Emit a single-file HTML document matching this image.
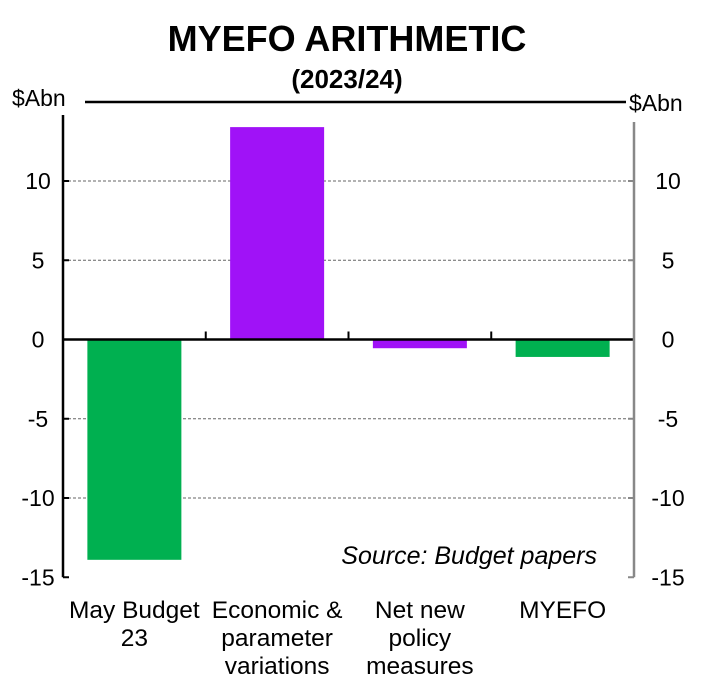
<!DOCTYPE html>
<html><head><meta charset="utf-8"><style>
body{margin:0;background:#fff;}
svg text{font-family:"Liberation Sans",Arial,sans-serif;fill:#000;}
</style></head><body>
<svg width="702" height="686" viewBox="0 0 702 686">
<text x="347" y="51" text-anchor="middle" font-size="36" font-weight="bold">MYEFO ARITHMETIC</text>
<text x="347" y="88" text-anchor="middle" font-size="26" font-weight="bold">(2023/24)</text>
<line x1="85" y1="102" x2="626" y2="102" stroke="#000" stroke-width="2.5"/>
<text x="12" y="106" font-size="23">$Abn</text>
<text x="629" y="111" font-size="23">$Abn</text>
<g id="grid"></g>
<g id="bars"></g>
<g id="axes"></g>
<text x="597" y="564" text-anchor="end" font-size="25" font-style="italic">Source: Budget papers</text>
</svg>
<script>
const categories=[["May Budget","23"],["Economic &","parameter","variations"],["Net new","policy","measures"],["MYEFO"]];
const values=[-13.9,13.4,-0.55,-1.1];
const colors=["#00b050","#a012f7","#a012f7","#00b050"];
const ticks=[10,5,0,-5,-10,-15];
const NS="http://www.w3.org/2000/svg";
const X0=63,X1=634,yZero=339.5,unit=15.85;
const y=v=>yZero-v*unit;
const cw=(X1-X0)/categories.length;
const cx=i=>X0+cw*(i+0.5);
function mk(t,a,p){const e=document.createElementNS(NS,t);for(const k in a)e.setAttribute(k,a[k]);p.appendChild(e);return e;}
const grid=document.getElementById('grid'),bars=document.getElementById('bars'),axes=document.getElementById('axes');
ticks.forEach(t=>{
  if(t!==0&&t!==-15){const g=mk('line',{x1:X0,x2:X1,y1:y(t),y2:y(t),stroke:'#666','stroke-width':1,'stroke-dasharray':'3,2'},grid);
  
  }
  const l=mk('text',{x:38,y:y(t)+8,'text-anchor':'middle','font-size':23},axes);l.textContent=t;
  
  
  const r=mk('text',{x:668,y:y(t)+8,'text-anchor':'middle','font-size':23},axes);r.textContent=t;
  
  
  const tl=mk('line',{x1:X0,x2:X0+6,y1:y(t),y2:y(t),stroke:'#000','stroke-width':2},axes);
  
  
  const tr=mk('line',{x1:X1-6,x2:X1,y1:y(t),y2:y(t),stroke:'#888','stroke-width':2},axes);
  
  
});
const bw=94;
values.forEach((v,i)=>{
  const b=mk('rect',{x:cx(i)-bw/2,y:Math.min(y(v),y(0)),width:bw,height:Math.abs(y(v)-y(0)),fill:colors[i]},bars);
  
  
  categories[i].forEach((ln,j)=>{
    const t=mk('text',{x:cx(i),y:618+j*28,'text-anchor':'middle','font-size':24.5},axes);t.textContent=ln;
    
    
  });
  if(i>0){const tk=mk('line',{x1:X0+cw*i,x2:X0+cw*i,y1:y(0)-8,y2:y(0),stroke:'#000','stroke-width':2},axes);
  
  }
});
const z=mk('line',{x1:X0,x2:X1,y1:y(0),y2:y(0),stroke:'#000','stroke-width':2.5},axes);


const la=mk('line',{x1:X0,x2:X0,y1:115,y2:y(-15),stroke:'#000','stroke-width':2.5},axes);


const ra=mk('line',{x1:X1,x2:X1,y1:122,y2:y(-15),stroke:'#888','stroke-width':2.5},axes);


</script>
</body></html>
